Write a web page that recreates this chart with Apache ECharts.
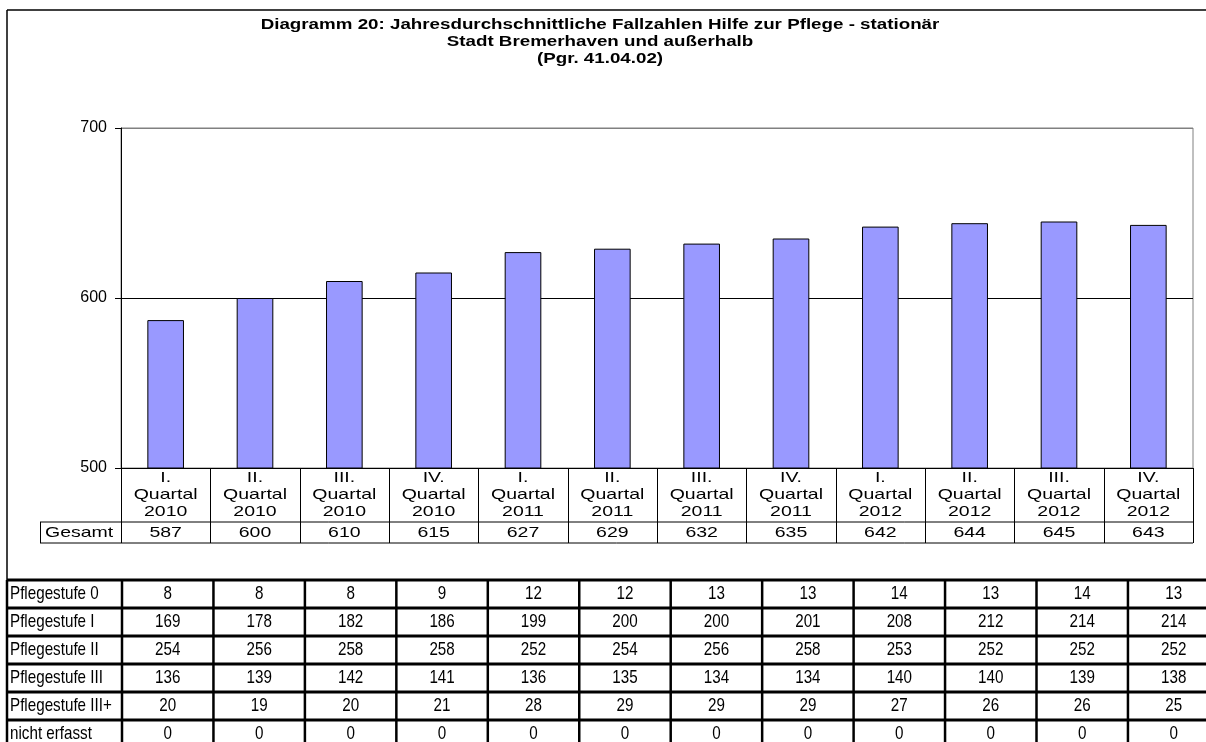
<!DOCTYPE html>
<html>
<head>
<meta charset="utf-8">
<script src="https://cdn.jsdelivr.net/npm/echarts@6/dist/echarts.min.js"></script>
<style>
  html, body { margin: 0; padding: 0; background: #fff; }
  #chart { width: 1206px; height: 742px; }
</style>
</head>
<body>
<div id="chart"></div>
<script>
// Quarters shown on the category axis (one line per row of the label cell)
const quarters = [
  'I.\nQuartal\n2010', 'II.\nQuartal\n2010', 'III.\nQuartal\n2010', 'IV.\nQuartal\n2010',
  'I.\nQuartal\n2011', 'II.\nQuartal\n2011', 'III.\nQuartal\n2011', 'IV.\nQuartal\n2011',
  'I.\nQuartal\n2012', 'II.\nQuartal\n2012', 'III.\nQuartal\n2012', 'IV.\nQuartal\n2012'
];
// Average case totals per quarter
const gesamt = [587, 600, 610, 615, 627, 629, 632, 635, 642, 644, 645, 643];

// Breakdown by care level
const stufeLabels = ['Pflegestufe 0', 'Pflegestufe I', 'Pflegestufe II', 'Pflegestufe III', 'Pflegestufe III+', 'nicht erfasst'];
const stufe0 = [8, 8, 8, 9, 12, 12, 13, 13, 14, 13, 14, 13];
const stufeI = [169, 178, 182, 186, 199, 200, 200, 201, 208, 212, 214, 214];
const stufeII = [254, 256, 258, 258, 252, 254, 256, 258, 253, 252, 252, 252];
const stufeIII = [136, 139, 142, 141, 136, 135, 134, 134, 140, 140, 139, 138];
const stufeIIIplus = [20, 19, 20, 21, 28, 29, 29, 29, 27, 26, 26, 25];
const nichtErfasst = [0, 0, 0, 0, 0, 0, 0, 0, 0, 0, 0, 0];

const titleLines = [
  'Diagramm 20: Jahresdurchschnittliche Fallzahlen Hilfe zur Pflege - stationär',
  'Stadt Bremerhaven und außerhalb',
  '(Pgr. 41.04.02)'
];
const yTicks = { min: 500, max: 700, step: 100 };

const FONT = "'Liberation Sans', Arial, sans-serif";
const chart = echarts.init(document.getElementById('chart'), null, { renderer: 'canvas' });

const G = { left: 121, top: 128, width: 1072, height: 340 };

chart.setOption({
  animation: false,
  backgroundColor: '#ffffff',
  grid: { left: G.left, top: G.top, width: G.width, height: G.height, show: true, borderColor: '#808080', borderWidth: 1, backgroundColor: 'transparent' },
  xAxis: {
    type: 'category',
    data: quarters,
    axisLine: { show: true, lineStyle: { color: '#000', width: 1 } },
    axisTick: { show: false },
    axisLabel: { show: false }
  },
  yAxis: {
    type: 'value',
    min: yTicks.min, max: yTicks.max, interval: yTicks.step,
    axisLine: { show: true, lineStyle: { color: '#000', width: 1 } },
    axisTick: { show: true, length: 6, lineStyle: { color: '#000' } },
    axisLabel: { color: '#000', fontSize: 16, fontFamily: FONT, margin: 14 },
    splitLine: { show: true, lineStyle: { color: ['#000', '#000', '#808080'], width: 1 } }
  },
  series: [{
    type: 'bar',
    data: gesamt,
    barWidth: '41%',
    itemStyle: { color: '#9999FF', borderColor: '#000', borderWidth: 1 }
  }]
});

function txt(x, y, text, opts) {
  opts = opts || {};
  return {
    type: 'text', x: x, y: y, silent: true,
    scaleX: opts.scaleX || 1,
    style: {
      text: text, x: 0, y: 0,
      fill: '#000',
      font: (opts.weight || 'normal') + ' ' + (opts.size || 15) + 'px ' + FONT,
      align: opts.align || 'center', textAlign: opts.align || 'center',
      verticalAlign: 'middle', textVerticalAlign: 'middle'
    }
  };
}
function line(x1, y1, x2, y2, w) {
  return { type: 'line', silent: true, shape: { x1: x1, y1: y1, x2: x2, y2: y2 }, style: { stroke: '#000', lineWidth: w || 1 } };
}

const els = [];

// Outer chart frame
els.push(line(7, 10, 1206, 10, 1.5));
els.push(line(7, 10, 7, 580, 1.5));

// Title
titleLines.forEach((t, i) => els.push(txt(600, 25 + i * 17, t, { weight: 'bold', size: 14, scaleX: 1.34 })));

// Category label cells and Gesamt row under the axis
const band = G.width / quarters.length;
const yAxisBottom = chart.convertToPixel({ yAxisIndex: 0 }, yTicks.min);
const rowTop = yAxisBottom, rowMid = yAxisBottom + 54, rowBot = yAxisBottom + 75;
for (let k = 0; k <= quarters.length; k++) {
  const x = Math.round(G.left + k * band) + 0.5;
  els.push(line(x, rowTop, x, rowBot, 1));
}
els.push(line(40, rowMid, G.left + G.width, rowMid, 1));
els.push(line(40, rowBot, G.left + G.width, rowBot, 1));
els.push(line(40.5, rowMid, 40.5, rowBot, 1));
els.push(txt(45, rowMid + 11, 'Gesamt', { align: 'left', scaleX: 1.3 }));
quarters.forEach((q, i) => {
  const cx = chart.convertToPixel({ xAxisIndex: 0 }, i);
  q.split('\n').forEach((part, j) => els.push(txt(cx, rowTop + 10 + j * 17, part, { scaleX: 1.3 })));
  els.push(txt(cx, rowMid + 11, String(gesamt[i]), { scaleX: 1.3 }));
});

// Care-level table
const tRows = [stufe0, stufeI, stufeII, stufeIII, stufeIIIplus, nichtErfasst];
const tTop = 580, tRowH = 28, tFirstCol = 122, tColW = 91.45;
for (let r = 0; r <= tRows.length; r++) {
  els.push(line(7, tTop + r * tRowH, 1206, tTop + r * tRowH, 3));
}
els.push(line(7, tTop, 7, 742, 2.5));
for (let c = 0; c < quarters.length; c++) {
  const x = tFirstCol + c * tColW;
  els.push(line(x, tTop, x, 742, 2.5));
}
tRows.forEach((vals, r) => {
  const cy = tTop + r * tRowH + 14;
  els.push(txt(10, cy, stufeLabels[r], { align: 'left', size: 19, scaleX: 0.8 }));
  vals.forEach((v, c) => els.push(txt(tFirstCol + c * tColW + tColW / 2, cy, String(v), { size: 19, scaleX: 0.8 })));
});

chart.setOption({ graphic: { elements: els } });
</script>
</body>
</html>
